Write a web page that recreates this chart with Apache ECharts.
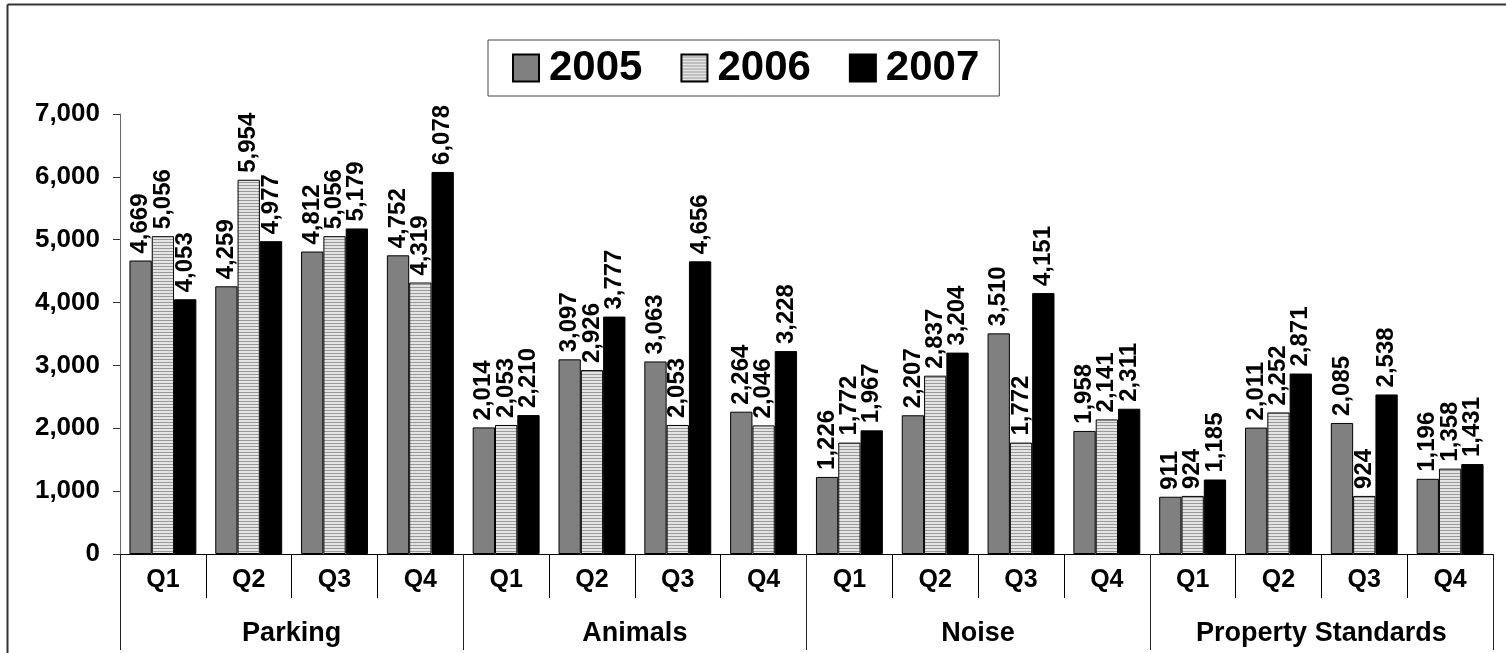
<!DOCTYPE html>
<html>
<head>
<meta charset="utf-8">
<script src="https://cdn.jsdelivr.net/npm/echarts@6/dist/echarts.min.js"></script>
<style>
  html, body { margin: 0; padding: 0; background: #fff; }
  #chart { width: 1506px; height: 653px; }
</style>
</head>
<body>
<div id="chart"></div>
<script>
// Complaint counts by quarter, grouped by complaint type
const groups = ['Parking', 'Animals', 'Noise', 'Property Standards'];
const quarters = ['Q1', 'Q2', 'Q3', 'Q4'];
const years = ['2005', '2006', '2007'];

const values2005 = [4669, 4259, 4812, 4752, 2014, 3097, 3063, 2264, 1226, 2207, 3510, 1958, 911, 2011, 2085, 1196];
const values2006 = [5056, 5954, 5056, 4319, 2053, 2926, 2053, 2046, 1772, 2837, 1772, 2141, 924, 2252, 924, 1358];
const values2007 = [4053, 4977, 5179, 6078, 2210, 3777, 4656, 3228, 1967, 3204, 4151, 2311, 1185, 2871, 2538, 1431];

const yTicks = [0, 1000, 2000, 3000, 4000, 5000, 6000, 7000];

// One category per quarter of each group
const categories = [];
groups.forEach(g => quarters.forEach(q => categories.push(q)));

// Horizontal stripe fill for the 2006 bars
function stripes() {
  const c = document.createElement('canvas');
  c.width = 4; c.height = 3;
  const ctx = c.getContext('2d');
  ctx.fillStyle = '#e4e4e4';
  ctx.fillRect(0, 0, 4, 3);
  ctx.fillStyle = '#9a9a9a';
  ctx.fillRect(0, 2, 4, 1);
  return c;
}

const FONT = 'Arial, "Liberation Sans", Helvetica, sans-serif';
const fmt = v => v.toLocaleString('en-US');

const labelStyle = {
  show: true,
  position: 'top',
  rotate: 90,
  align: 'left',
  verticalAlign: 'middle',
  distance: 7,
  fontFamily: FONT,
  fontWeight: 'bold',
  fontSize: 24,
  color: '#000',
  formatter: p => fmt(p.value)
};

const fills = ['#808080', { image: stripes(), repeat: 'repeat' }, '#000000'];
const seriesData = [values2005, values2006, values2007];

const chart = echarts.init(document.getElementById('chart'), null, { renderer: 'canvas' });

chart.setOption({
  animation: false,
  backgroundColor: '#fff',
  legend: {
    left: 488,
    top: 40,
    icon: 'rect',
    padding: [7, 20, 7, 24],
    itemGap: 38,
    itemWidth: 26,
    itemHeight: 27,
    borderColor: '#444',
    borderWidth: 1,
    textStyle: { fontFamily: FONT, fontWeight: 'bold', fontSize: 42, color: '#000', padding: [0, 0, 0, 5] },
    data: years
  },
  grid: { left: 120, right: 13, top: 114, bottom: 99, containLabel: false },
  xAxis: [
    {
      type: 'category',
      data: categories,
      position: 'bottom',
      axisLine: { show: true, lineStyle: { color: '#000', width: 1 } },
      axisTick: { show: true, interval: 0, length: 44, lineStyle: { color: '#000' } },
      axisLabel: { interval: 0, margin: 14, fontFamily: FONT, fontWeight: 'bold', fontSize: 25, color: '#000' }
    },
    {
      type: 'category',
      data: groups,
      position: 'bottom',
      offset: 0,
      axisLine: { show: false },
      axisTick: { show: true, interval: 0, length: 96, lineStyle: { color: '#222' } },
      axisLabel: { interval: 0, margin: 66, fontFamily: FONT, fontWeight: 'bold', fontSize: 27, color: '#000' }
    }
  ],
  yAxis: {
    type: 'value',
    min: yTicks[0],
    max: yTicks[yTicks.length - 1],
    interval: 1000,
    splitLine: { show: false },
    axisLine: { show: true, lineStyle: { color: '#666' } },
    axisTick: { show: true, length: 7, lineStyle: { color: '#333' } },
    axisLabel: { margin: 20, fontFamily: FONT, fontWeight: 'bold', fontSize: 26, color: '#000', formatter: v => fmt(v) }
  },
  series: years.map((y, i) => ({
    name: y,
    type: 'bar',
    xAxisIndex: 0,
    data: seriesData[i],
    barGap: '0%',
    barCategoryGap: '22%',
    itemStyle: { color: fills[i], borderColor: '#000', borderWidth: 1 },
    label: labelStyle
  })),
  graphic: [
    { type: 'line', shape: { x1: 7.5, y1: 4.5, x2: 1506, y2: 4.5 }, style: { stroke: '#333', lineWidth: 2 }, silent: true },
    { type: 'line', shape: { x1: 7.5, y1: 4.5, x2: 7.5, y2: 653 }, style: { stroke: '#333', lineWidth: 2 }, silent: true }
  ]
});
</script>
</body>
</html>
